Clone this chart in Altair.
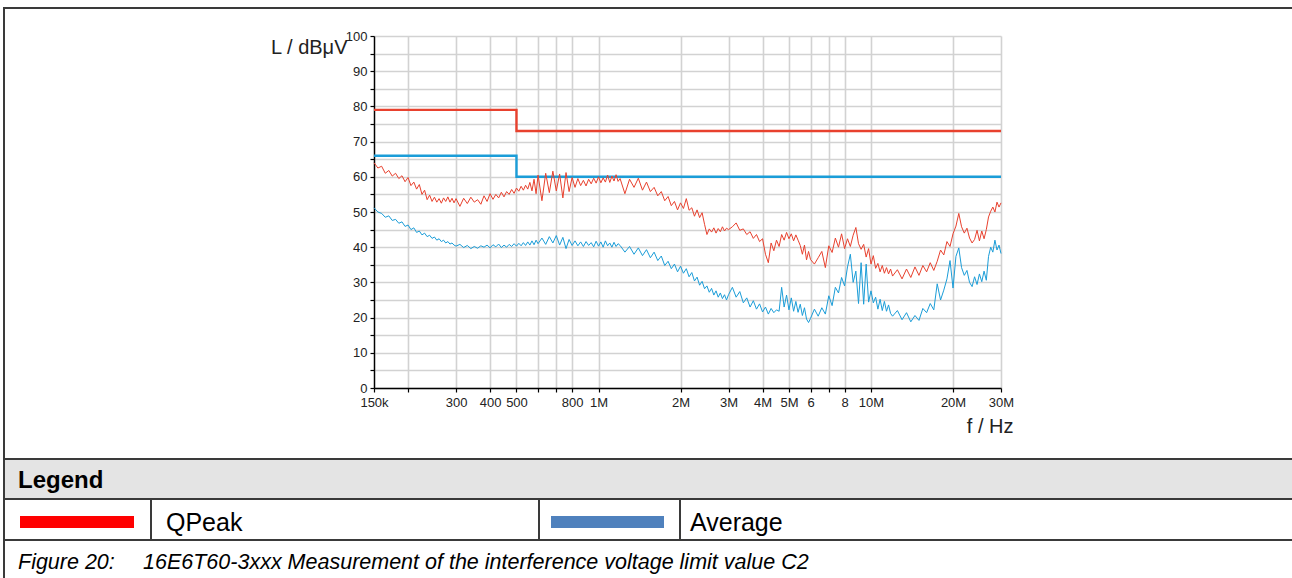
import altair as alt
import pandas as pd

# ---------------------------------------------------------------- data
# Sweep frequencies in MHz (150 kHz ... 30 MHz)
FREQ_MHZ = [
    0.150, 0.155, 0.160, 0.165, 0.170, 0.175, 0.180, 0.185, 0.190, 0.195,
    0.200, 0.205, 0.210, 0.215, 0.220, 0.225, 0.230, 0.235, 0.240, 0.245,
    0.250, 0.255, 0.260, 0.265, 0.270, 0.275, 0.280, 0.285, 0.290, 0.295,
    0.30, 0.31, 0.32, 0.33, 0.34, 0.35, 0.36, 0.37, 0.38, 0.39,
    0.40, 0.41, 0.42, 0.43, 0.44, 0.45, 0.46, 0.47, 0.48, 0.49,
    0.50, 0.51, 0.52, 0.53, 0.54, 0.55, 0.56, 0.57, 0.58, 0.59,
    0.60, 0.62, 0.64, 0.66, 0.68, 0.70, 0.72, 0.74, 0.76, 0.78,
    0.80, 0.82, 0.84, 0.86, 0.88, 0.90, 0.92, 0.94, 0.96, 0.98,
    1.00, 1.02, 1.04, 1.06, 1.08, 1.10, 1.12, 1.14, 1.16, 1.18,
    1.20, 1.25, 1.30, 1.35, 1.40, 1.45, 1.50, 1.55, 1.60, 1.65,
    1.70, 1.75, 1.80, 1.85, 1.90, 1.95, 2.00, 2.05, 2.10, 2.15,
    2.20, 2.25, 2.30, 2.35, 2.40, 2.45, 2.50, 2.55, 2.60, 2.65,
    2.70, 2.75, 2.80, 2.85, 2.90, 2.95,
    3.0, 3.1, 3.2, 3.3, 3.4, 3.5, 3.6, 3.7, 3.8, 3.9,
    4.0, 4.1, 4.2, 4.3, 4.4, 4.5, 4.6, 4.7, 4.8, 4.9,
    5.0, 5.1, 5.2, 5.3, 5.4, 5.5, 5.6, 5.7, 5.8, 5.9,
    6.0, 6.2, 6.4, 6.6, 6.8, 7.0, 7.2, 7.4, 7.6, 7.8,
    8.0, 8.2, 8.4, 8.6, 8.8, 9.0, 9.2, 9.4, 9.6, 9.8,
    10.0, 10.2, 10.4, 10.6, 10.8, 11.0, 11.2, 11.4, 11.6, 11.8,
    12.0, 12.5, 13.0, 13.5, 14.0, 14.5, 15.0, 15.5, 16.0, 16.5,
    17.0, 17.5, 18.0, 18.5, 19.0, 19.5, 20.0, 20.5, 21.0, 21.5,
    22.0, 22.5, 23.0, 23.5, 24.0, 24.5, 25.0, 25.5, 26.0, 26.5,
    27.0, 27.5, 28.0, 28.5, 29.0, 29.5, 30.0,
]

# Quasi-peak detector reading, dBµV
QPEAK_DBUV = [
    64.0, 62.5, 63.0, 61.0, 61.8, 60.2, 61.0, 59.5, 60.3, 58.6,
    59.8, 57.5, 58.5, 56.5, 57.8, 55.0, 56.2, 53.5, 54.8, 53.0,
    54.2, 52.8, 53.8, 52.5, 54.0, 53.0, 54.3, 52.8, 53.9, 52.6,
    53.8, 51.6, 53.9, 52.4, 54.2, 52.8, 53.5, 52.2, 54.6, 53.0,
    55.2, 53.6, 55.0, 54.0, 55.6, 54.3, 55.8, 55.0, 56.4, 55.3,
    56.8, 55.9, 57.3, 56.2, 57.6, 56.5, 58.4, 56.0, 59.3, 55.2,
    60.5, 53.2, 61.0, 55.5, 61.6, 56.0, 60.8, 54.0, 61.2, 55.8,
    59.8, 57.0, 59.5, 57.5, 59.0, 57.4, 59.3, 58.0, 59.6, 58.2,
    60.0, 58.3, 59.7, 58.5, 60.5, 58.4, 60.2, 58.8, 60.6, 58.7,
    59.5, 55.2, 59.3, 57.0, 59.6, 56.2, 58.5, 55.8, 57.0, 54.6,
    55.8, 53.2, 54.4, 51.8, 53.0, 50.6, 52.6, 51.0, 53.8, 50.5,
    51.2, 48.8, 50.6, 48.4, 49.8, 46.5, 43.6, 45.2, 44.3, 45.5,
    44.0, 45.3, 44.4, 45.8, 44.6, 45.4,
    45.0, 45.8, 46.9, 44.8, 45.2, 43.6, 44.4, 42.5, 43.6, 41.6,
    42.4, 38.0, 35.6, 41.2, 39.0, 42.0, 40.2, 43.6, 42.0, 44.2,
    42.4, 43.8, 41.8, 43.5, 42.0, 40.5, 38.0, 40.6, 36.4, 38.8,
    36.5, 35.2, 37.0, 38.8, 34.2, 40.4, 38.5, 42.6, 40.0, 43.8,
    39.6, 42.4, 40.2, 43.4, 45.6, 41.0, 39.4, 40.8, 37.2, 39.6,
    35.2, 37.6, 34.0, 35.4, 33.0, 34.8, 32.6, 34.2, 32.4, 33.8,
    31.8, 33.6, 31.0, 33.8, 31.4, 34.4, 32.0, 34.8, 33.0, 35.6,
    33.4, 36.0, 39.2, 37.8, 41.6, 40.2, 43.8, 46.0, 49.6, 45.8,
    44.0, 45.4, 42.6, 41.2, 42.2, 44.8, 41.8, 44.6, 42.4, 45.0,
    48.6, 50.2, 51.4, 50.0, 52.8, 51.4, 52.6,
]

# Average detector reading, dBµV
AVERAGE_DBUV = [
    51.2, 50.0, 49.6, 48.5, 48.9, 47.6, 47.9, 46.8, 47.2, 45.9,
    46.3, 45.0, 45.5, 44.2, 44.6, 43.5, 44.0, 43.0, 43.4, 42.5,
    42.9, 42.0, 42.4, 41.6, 42.0, 41.2, 41.6, 40.9, 41.2, 40.6,
    40.3, 40.8, 39.9, 40.5, 39.6, 40.2, 39.7, 40.4, 40.0, 40.6,
    39.8, 40.7, 40.1, 40.9, 39.9, 40.6, 40.0, 40.8, 40.2, 41.0,
    40.3, 41.1, 40.4, 41.3, 40.5, 41.5, 40.6, 41.8, 40.7, 42.0,
    41.0, 42.6, 40.8, 43.0, 41.2, 43.3, 40.6, 42.8, 39.6, 42.2,
    40.5, 41.8, 40.4, 41.5, 40.2, 41.6, 40.5, 41.3, 40.1, 41.7,
    40.3, 41.5, 40.0, 41.8, 40.4, 41.2, 40.0, 41.4, 40.2, 41.0,
    40.5, 38.6, 40.2, 38.0, 39.8, 37.6, 39.3, 37.0, 38.6, 36.2,
    37.5, 34.8, 36.0, 33.9, 35.2, 33.0, 34.6, 32.6, 33.9, 31.6,
    32.8, 30.4, 31.5, 29.2, 30.3, 28.2, 29.0, 27.2, 28.3, 26.4,
    27.6, 25.8, 27.0, 25.4, 26.5, 25.0,
    26.5, 28.6, 25.8, 27.4, 24.2, 25.6, 23.0, 24.8, 22.4, 23.9,
    21.6, 23.0, 21.0, 22.6, 21.4, 22.2, 21.8, 28.6, 23.0, 26.4,
    22.2, 25.6, 21.8, 24.6, 21.5, 23.8, 20.6, 22.8, 19.6, 18.6,
    19.8, 22.4, 20.4, 22.8, 21.0, 26.2, 23.4, 28.6, 27.0, 31.4,
    29.0, 34.4, 38.0, 30.0, 33.2, 24.0, 35.6, 23.8, 35.2, 24.4,
    27.6, 24.2, 25.8, 22.4, 25.2, 22.0, 24.6, 21.8, 23.6, 21.2,
    20.4, 22.0, 19.4, 21.4, 18.8, 20.6, 19.2, 22.6, 21.4, 24.0,
    22.2, 29.6, 25.0, 27.8, 31.0, 36.2, 28.4, 37.4, 39.8, 34.2,
    32.0, 33.4, 30.0, 28.8, 31.6, 29.4, 32.4, 30.2, 33.2, 30.6,
    37.4, 40.0, 38.6, 42.0, 39.2, 40.6, 38.2,
]

# Limit value class C2 (step at 500 kHz)
LIMIT_FREQ_MHZ = [0.15, 0.5, 0.5, 30.0]
QPEAK_LIMIT_DBUV = [79, 79, 73, 73]
AVERAGE_LIMIT_DBUV = [66, 66, 60, 60]

X_TICKS = [0.15, 0.2, 0.3, 0.4, 0.5, 0.6, 0.7, 0.8, 1, 2, 3, 4, 5, 6, 7, 8, 10, 20, 30]
X_TICK_TEXT = ["150k", "", "300", "400", "500", "", "", "800", "1M", "2M", "3M",
               "4M", "5M", "6", "", "8", "10M", "20M", "30M"]
Y_TICKS = [0, 5, 10, 15, 20, 25, 30, 35, 40, 45, 50, 55, 60, 65, 70, 75, 80, 85, 90, 95, 100]

LEGEND_LABELS = ["QPeak", "Average"]
LEGEND_SWATCH_COLORS = ["#FF0000", "#4F81BD"]
CAPTION_NUMBER = "Figure 20:"
CAPTION_TEXT = "16E6T60-3xxx Measurement of the interference voltage limit value C2"

# ---------------------------------------------------------------- styling
FONT = "Liberation Sans"
RED = "#E8412E"
BLUE = "#1B9DD8"
FRAME = "#3a3a3a"
W, H = 627, 352
PAD = {"left": 374, "top": 36, "right": 291, "bottom": 190}

x_label_expr = " : ".join(
    f"abs(datum.value - {v}) < 1e-6 ? '{t}'" for v, t in zip(X_TICKS, X_TICK_TEXT) if t
) + " : ''"

x_enc = alt.X(
    "f:Q",
    scale=alt.Scale(type="log", domain=[0.15, 30], nice=False),
    axis=alt.Axis(
        values=X_TICKS, labelExpr=x_label_expr, title="f / Hz",
        titleAngle=0, titleAlign="right", titleBaseline="alphabetic",
        titleX=639, titleY=44, titleFontSize=20, titleFontWeight="normal",
        titleFont=FONT, titleColor="#222",
        labelFont=FONT, labelFontSize=13, labelColor="#222", labelPadding=4,
        labelOverlap=False, labelFlush=False,
        grid=True, gridColor="#d2d2d2", gridWidth=1.6,
        domainColor="#000", domainWidth=1.4, tickColor="#000", tickSize=4, tickWidth=1.2,
    ),
)
y_enc = alt.Y(
    "L:Q",
    scale=alt.Scale(domain=[0, 100], nice=False),
    axis=alt.Axis(
        values=Y_TICKS, labelExpr="datum.value % 10 == 0 ? datum.label : ''",
        title="L / dBμV", titleAngle=0, titleAlign="right", titleBaseline="alphabetic",
        titleX=-27, titleY=17, titleFontSize=20, titleFontWeight="normal",
        titleFont=FONT, titleColor="#222",
        labelFont=FONT, labelFontSize=13, labelColor="#222", labelPadding=3,
        grid=True, gridColor="#d2d2d2", gridWidth=1.6,
        domainColor="#000", domainWidth=1.4, tickColor="#000", tickSize=4, tickWidth=1.2,
    ),
)

qp_df = pd.DataFrame({"f": FREQ_MHZ, "L": QPEAK_DBUV})
av_df = pd.DataFrame({"f": FREQ_MHZ, "L": AVERAGE_DBUV})
qp_lim = pd.DataFrame({"f": LIMIT_FREQ_MHZ, "L": QPEAK_LIMIT_DBUV, "i": range(4)})
av_lim = pd.DataFrame({"f": LIMIT_FREQ_MHZ, "L": AVERAGE_LIMIT_DBUV, "i": range(4)})

qp_limit = alt.Chart(qp_lim).mark_line(color=RED, strokeWidth=2.4).encode(
    x=x_enc, y=y_enc, order="i:Q")
av_limit = alt.Chart(av_lim).mark_line(color=BLUE, strokeWidth=2.4).encode(
    x=x_enc, y=y_enc, order="i:Q")
qp_trace = alt.Chart(qp_df).mark_line(color=RED, strokeWidth=1).encode(x=x_enc, y=y_enc)
av_trace = alt.Chart(av_df).mark_line(color=BLUE, strokeWidth=1).encode(x=x_enc, y=y_enc)

# ---------------------------------------------------------------- frame and legend table
one = pd.DataFrame({"k": [0]})


def hline(x0, x1, y, width=2, color=FRAME):
    return alt.Chart(one).mark_rule(color=color, strokeWidth=width).encode(
        x=alt.value(x0), x2=alt.value(x1), y=alt.value(y))


def vline(x, y0, y1, width=2, color=FRAME):
    return alt.Chart(one).mark_rule(color=color, strokeWidth=width).encode(
        x=alt.value(x), y=alt.value(y0), y2=alt.value(y1))


def box(x0, x1, y0, y1, color):
    return alt.Chart(one).mark_rect(color=color).encode(
        x=alt.value(x0), x2=alt.value(x1), y=alt.value(y0), y2=alt.value(y1))


def label(x, y, text, size=21, weight="normal", style="normal"):
    return alt.Chart(one).mark_text(
        align="left", baseline="alphabetic", font=FONT, fontSize=size,
        fontWeight=weight, fontStyle=style, color="#000",
    ).encode(x=alt.value(x), y=alt.value(y), text=alt.value(text))


decor = [
    box(-370, 918, 423, 463, "#E4E4E4"),
    hline(-371, 918, -28),
    vline(-370, -29, 542),
    hline(-371, 918, 423),
    hline(-371, 918, 463),
    hline(-371, 918, 504),
    vline(-223, 463, 504),
    vline(165, 463, 504),
    vline(306, 463, 504),
    box(-354, -240, 480, 492, LEGEND_SWATCH_COLORS[0]),
    box(177, 290, 480, 492, LEGEND_SWATCH_COLORS[1]),
    label(-356, 452, "Legend", size=24, weight="bold"),
    label(-208, 495, LEGEND_LABELS[0], size=25),
    label(316, 495, LEGEND_LABELS[1], size=25),
    label(-356, 533, CAPTION_NUMBER, size=21.5, style="italic"),
    label(-231, 533, CAPTION_TEXT, size=21.5, style="italic"),
]

chart = alt.layer(qp_limit, av_limit, qp_trace, av_trace, *decor).properties(
    width=W, height=H,
    autosize=alt.AutoSizeParams(type="none"),
    padding=PAD,
    background="white",
).configure_view(strokeWidth=0)

chart.save("out.html", embed_options={"renderer": "svg", "actions": False})
